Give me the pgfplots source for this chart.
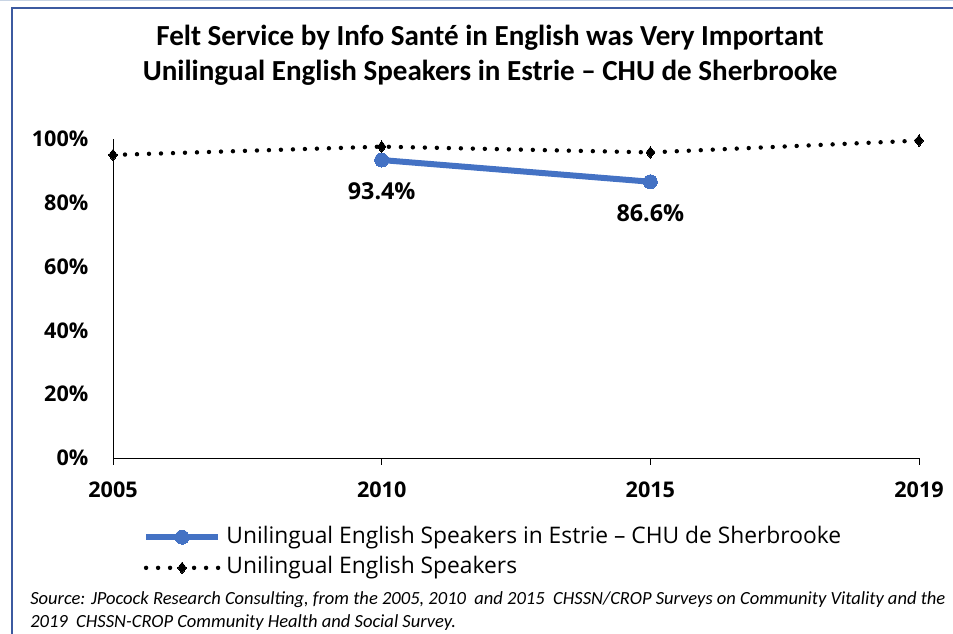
\documentclass[border=0pt]{standalone}
\usepackage{pgfplots}
\pgfplotsset{compat=1.18}
\usepackage{fontspec}
\setmainfont{Carlito}
\newfontfamily\uifont{Open Sans}
\definecolor{frameblue}{RGB}{60,90,160}
\definecolor{lineblue}{RGB}{68,114,196}
\definecolor{topgray}{RGB}{200,212,228}
\begin{document}
\begin{tikzpicture}
\path[use as bounding box] (0pt,0pt) rectangle (714.75pt,475.5pt);
\draw[topgray, line width=1.2pt] (0pt,475pt) -- (714.75pt,475pt);
\draw[frameblue, line width=1.6pt] (8.8pt,0pt) -- (8.8pt,469.5pt) -- (714.75pt,469.5pt);
\node[font=\fontsize{21.8}{26.25}\selectfont\bfseries, align=center] at (367.5pt,434.25pt)
  {Felt Service by Info Santé in English was Very Important\\Unilingual English Speakers in Estrie – CHU de Sherbrooke};
\begin{axis}[
  at={(84.75pt,132pt)}, anchor=south west,
  scale only axis, width=604.5pt, height=239.25pt,
  xmin=0, xmax=3, ymin=0, ymax=100,
  axis x line=bottom, axis y line=left,
  axis line style={-, black, line width=0.6pt},
  xtick={0,1,2,3}, xticklabels={2005,2010,2015,2019},
  ytick={0,20,40,60,80,100}, yticklabels={0\%,20\%,40\%,60\%,80\%,100\%},
  ticklabel style={font=\uifont\fontsize{16.2}{19}\selectfont\bfseries},
  xtick style={black, line width=0.6pt},
  x tick label style={yshift=-9pt},
  ytick style={draw=none},
  y tick label style={xshift=-10pt},
  major tick length=5pt,
  tick align=outside,
  clip=false,
  legend style={at={(axis description cs:0.037,-0.214)}, anchor=north west, draw=none, fill=none,
    font=\uifont\fontsize{17.1}{20}\selectfont, row sep=7pt, inner sep=0pt,
    nodes={inner sep=0pt, text height=12.5pt, text depth=3.5pt}},
  legend cell align=left,
  legend image code/.code={\draw[mark repeat=2,mark phase=2,#1] plot coordinates {(0pt,0pt)(27pt,0pt)(54pt,0pt)};},
]
\addplot[lineblue, line width=4.5pt, mark=*, mark size=5.25pt, mark options={solid, fill=lineblue, draw=lineblue, line width=0pt},
  nodes near coords, point meta=explicit symbolic,
  every node near coord/.append style={anchor=center, yshift=-23.25pt, font=\uifont\fontsize{17.5}{20}\selectfont\bfseries, text=black}]
  coordinates {(1,93.4) [93.4\%] (2,86.6) [86.6\%]};
\addlegendentry{\hspace{4pt}Unilingual English Speakers in Estrie – CHU de Sherbrooke}
\addplot[black, line width=3.3pt, line cap=round, dash pattern=on 0pt off 9pt, mark=diamond*, mark size=4.3pt, mark options={solid, fill=black, line width=0pt}]
  coordinates {(0,95.0) (1,97.6) (2,95.8) (3,99.5)};
\addlegendentry{\hspace{4pt}Unilingual English Speakers}
\end{axis}
\node[anchor=west, inner sep=0pt, font=\fontsize{13.9}{16}\selectfont\itshape] at (22.5pt,25.75pt)
  {Source: JPocock Research Consulting, from the 2005, 2010\ \ and 2015\ \ CHSSN/CROP Surveys on Community Vitality and the};
\node[anchor=west, inner sep=0pt, font=\fontsize{13.9}{16}\selectfont\itshape] at (22.5pt,8.5pt)
  {2019\ \ CHSSN-CROP Community Health and Social Survey.};
\end{tikzpicture}
\end{document}
